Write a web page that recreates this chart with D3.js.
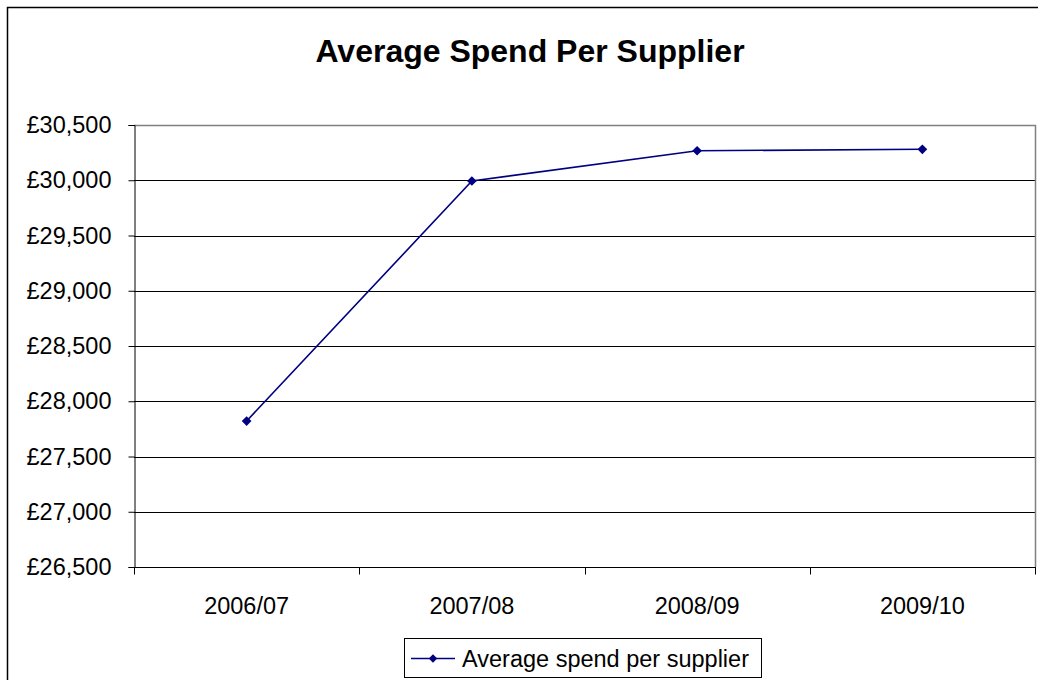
<!DOCTYPE html>
<html>
<head>
<meta charset="utf-8">
<script src="https://cdn.jsdelivr.net/npm/d3@7"></script>
<style>
  html, body { margin: 0; padding: 0; background: #fff; }
  svg { display: block; font-family: "Liberation Sans", Arial, sans-serif; }
</style>
</head>
<body>
<svg id="chart" width="1038" height="680"></svg>
<script>
// Average spend per supplier by financial year
const years = ["2006/07", "2007/08", "2008/09", "2009/10"];
const avgSpend = [27821, 29993, 30267, 30280];
const yTicks = [26500, 27000, 27500, 28000, 28500, 29000, 29500, 30000, 30500];
const seriesName = "Average spend per supplier";

const svg = d3.select("#chart");
const plot = { left: 134, right: 1035, top: 125, bottom: 567 };
const labelSize = 23.5;

// chart frame
svg.append("rect")
  .attr("x", 7.5).attr("y", 7.5)
  .attr("width", 1040).attr("height", 690)
  .attr("fill", "#fff").attr("stroke", "#000").attr("stroke-width", 1.5);

// title
svg.append("text")
  .attr("x", 530).attr("y", 62)
  .attr("text-anchor", "middle")
  .attr("font-size", 32).attr("font-weight", "bold")
  .text("Average Spend Per Supplier");

const x = d3.scaleBand().domain(years).range([plot.left, plot.right]);
const y = d3.scaleLinear().domain([26500, 30500]).range([plot.bottom, plot.top]);

// horizontal gridlines
svg.append("g")
  .selectAll("line")
  .data(yTicks.slice(1, -1))
  .join("line")
  .attr("x1", plot.left).attr("x2", plot.right)
  .attr("y1", d => Math.round(y(d)) + 0.5).attr("y2", d => Math.round(y(d)) + 0.5)
  .attr("stroke", "#000").attr("stroke-width", 1);

// plot area border (top and right)
svg.append("path")
  .attr("d", `M${plot.left},${plot.top + 0.5}H${plot.right + 0.5}V${plot.bottom}`)
  .attr("fill", "none").attr("stroke", "#808080").attr("stroke-width", 1.5);

// y axis
const yAxis = svg.append("g")
  .attr("transform", `translate(${plot.left + 0.5},0)`)
  .call(d3.axisLeft(y).tickValues(yTicks).tickSize(6).tickPadding(17)
    .tickFormat(d => "£" + d3.format(",")(d)));
yAxis.attr("font-size", labelSize).attr("font-family", "'Liberation Sans', Arial, sans-serif");
yAxis.select(".domain").attr("stroke", "#000");
yAxis.selectAll(".tick line").attr("stroke", "#000");
yAxis.selectAll(".tick text").attr("fill", "#000");

// x axis with ticks at category boundaries
const xAxisG = svg.append("g")
  .attr("transform", `translate(0,${plot.bottom + 0.5})`);
xAxisG.append("line")
  .attr("x1", plot.left).attr("x2", plot.right + 1)
  .attr("stroke", "#000");
const bounds = years.map(d => x(d)).concat([plot.right]);
xAxisG.selectAll("line.tk")
  .data(bounds)
  .join("line").attr("class", "tk")
  .attr("x1", d => Math.round(d) + 0.5).attr("x2", d => Math.round(d) + 0.5)
  .attr("y1", 0).attr("y2", 7)
  .attr("stroke", "#000");
xAxisG.selectAll("text")
  .data(years)
  .join("text")
  .attr("x", d => x(d) + x.bandwidth() / 2)
  .attr("y", 46)
  .attr("text-anchor", "middle")
  .attr("font-size", labelSize)
  .text(d => d);

// series line and markers
const cx = d => x(d) + x.bandwidth() / 2;
const pts = years.map((d, i) => [cx(d), y(avgSpend[i])]);
svg.append("path")
  .attr("d", d3.line()(pts))
  .attr("fill", "none").attr("stroke", "#000080").attr("stroke-width", 1.6);

const diamond = d3.symbol().type(d3.symbolDiamond2).size(60);
svg.append("g")
  .selectAll("path")
  .data(pts)
  .join("path")
  .attr("transform", d => `translate(${d[0]},${d[1]})`)
  .attr("d", diamond)
  .attr("fill", "#000080");

// legend
const lg = svg.append("g");
lg.append("rect")
  .attr("x", 404.5).attr("y", 638.5)
  .attr("width", 357).attr("height", 39)
  .attr("fill", "#fff").attr("stroke", "#000").attr("stroke-width", 1);
lg.append("line")
  .attr("x1", 411).attr("x2", 455).attr("y1", 658.5).attr("y2", 658.5)
  .attr("stroke", "#000080").attr("stroke-width", 1.6);
lg.append("path")
  .attr("transform", "translate(433,658.5)")
  .attr("d", d3.symbol().type(d3.symbolDiamond2).size(45))
  .attr("fill", "#000080");
lg.append("text")
  .attr("x", 462).attr("y", 667)
  .attr("font-size", labelSize)
  .text(seriesName);
</script>
</body>
</html>
